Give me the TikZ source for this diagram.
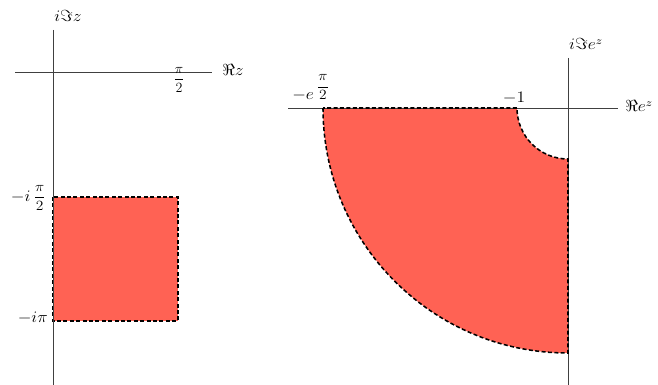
\documentclass[tikz,border=0pt]{standalone}
\usepackage{amsmath}
\usepackage{graphicx}
\definecolor{regred}{RGB}{255,98,84}
\newcommand{\wlab}[1]{\scalebox{1.1}[1]{#1}}
\newcommand{\hpi}{\scalebox{0.88}{$\dfrac{\pi}{2}$}}
\begin{document}
\begin{tikzpicture}[x=0.75pt,y=-0.75pt,
  axis/.style={draw=black!75,line width=0.7pt},
  bnd/.style={draw=black,line width=1.15pt,dash pattern=on 3pt off 1.8pt},
  region/.style={fill=regred},
  lab/.style={inner sep=0pt,font=\fontsize{12}{14}\selectfont}]
\useasboundingbox (0,0) rectangle (658,385);
% left plot
\coordinate (sqtl) at (53,197);
\coordinate (sqbr) at (178,321);
\fill[region] (sqtl) rectangle (sqbr);
\draw[bnd] (sqtl) rectangle (sqbr);
\coordinate (lxa) at (15,72);
\coordinate (lxb) at (212,72);
\coordinate (lya) at (53,30);
\coordinate (lyb) at (53,385);
\draw[axis] (lxa) -- (lxb);
\draw[axis] (lya) -- (lyb);
\node[lab,anchor=base west] (lre) at (222,76) {\wlab{$\Re z$}};
\node[lab,anchor=base] (lim) at (68,22) {\wlab{$i\Im z$}};
\node[lab] (lpi) at (179,80) {\hpi};
\node[lab,anchor=base east] (lhalf) at (46,201) {\wlab{$-i\,$\hpi}};
\node[lab,anchor=base east] (lipi) at (48,322) {\wlab{$-i\pi$}};
% right plot
\coordinate (ro) at (568,108);
\coordinate (rout) at (323,108);
\coordinate (rin) at (517,108);
\path[region] (rout) arc[start angle=180,end angle=90,radius=245] -- (568,159) arc[start angle=90,end angle=180,radius=51] -- cycle;
\coordinate (rxa) at (288,108);
\coordinate (rxb) at (618,108);
\coordinate (rya) at (568,58);
\coordinate (ryb) at (568,385);
\draw[axis] (rxa) -- (rxb);
\draw[axis] (rya) -- (ryb);
\draw[bnd] (rout) arc[start angle=180,end angle=90,radius=245] -- (568,159) arc[start angle=90,end angle=180,radius=51] -- cycle;
\node[lab,anchor=base west] (rre) at (625,112) {\wlab{$\Re e^z$}};
\node[lab,anchor=base] (rim) at (586,50) {\wlab{$i\Im e^z$}};
\node[lab,anchor=base] (rm1) at (514,103) {\wlab{$-1$}};
\node[lab,anchor=base west] (rme) at (292,100) {\wlab{$-e$\,\raisebox{\depth}{\hpi}}};
\end{tikzpicture}
\end{document}
